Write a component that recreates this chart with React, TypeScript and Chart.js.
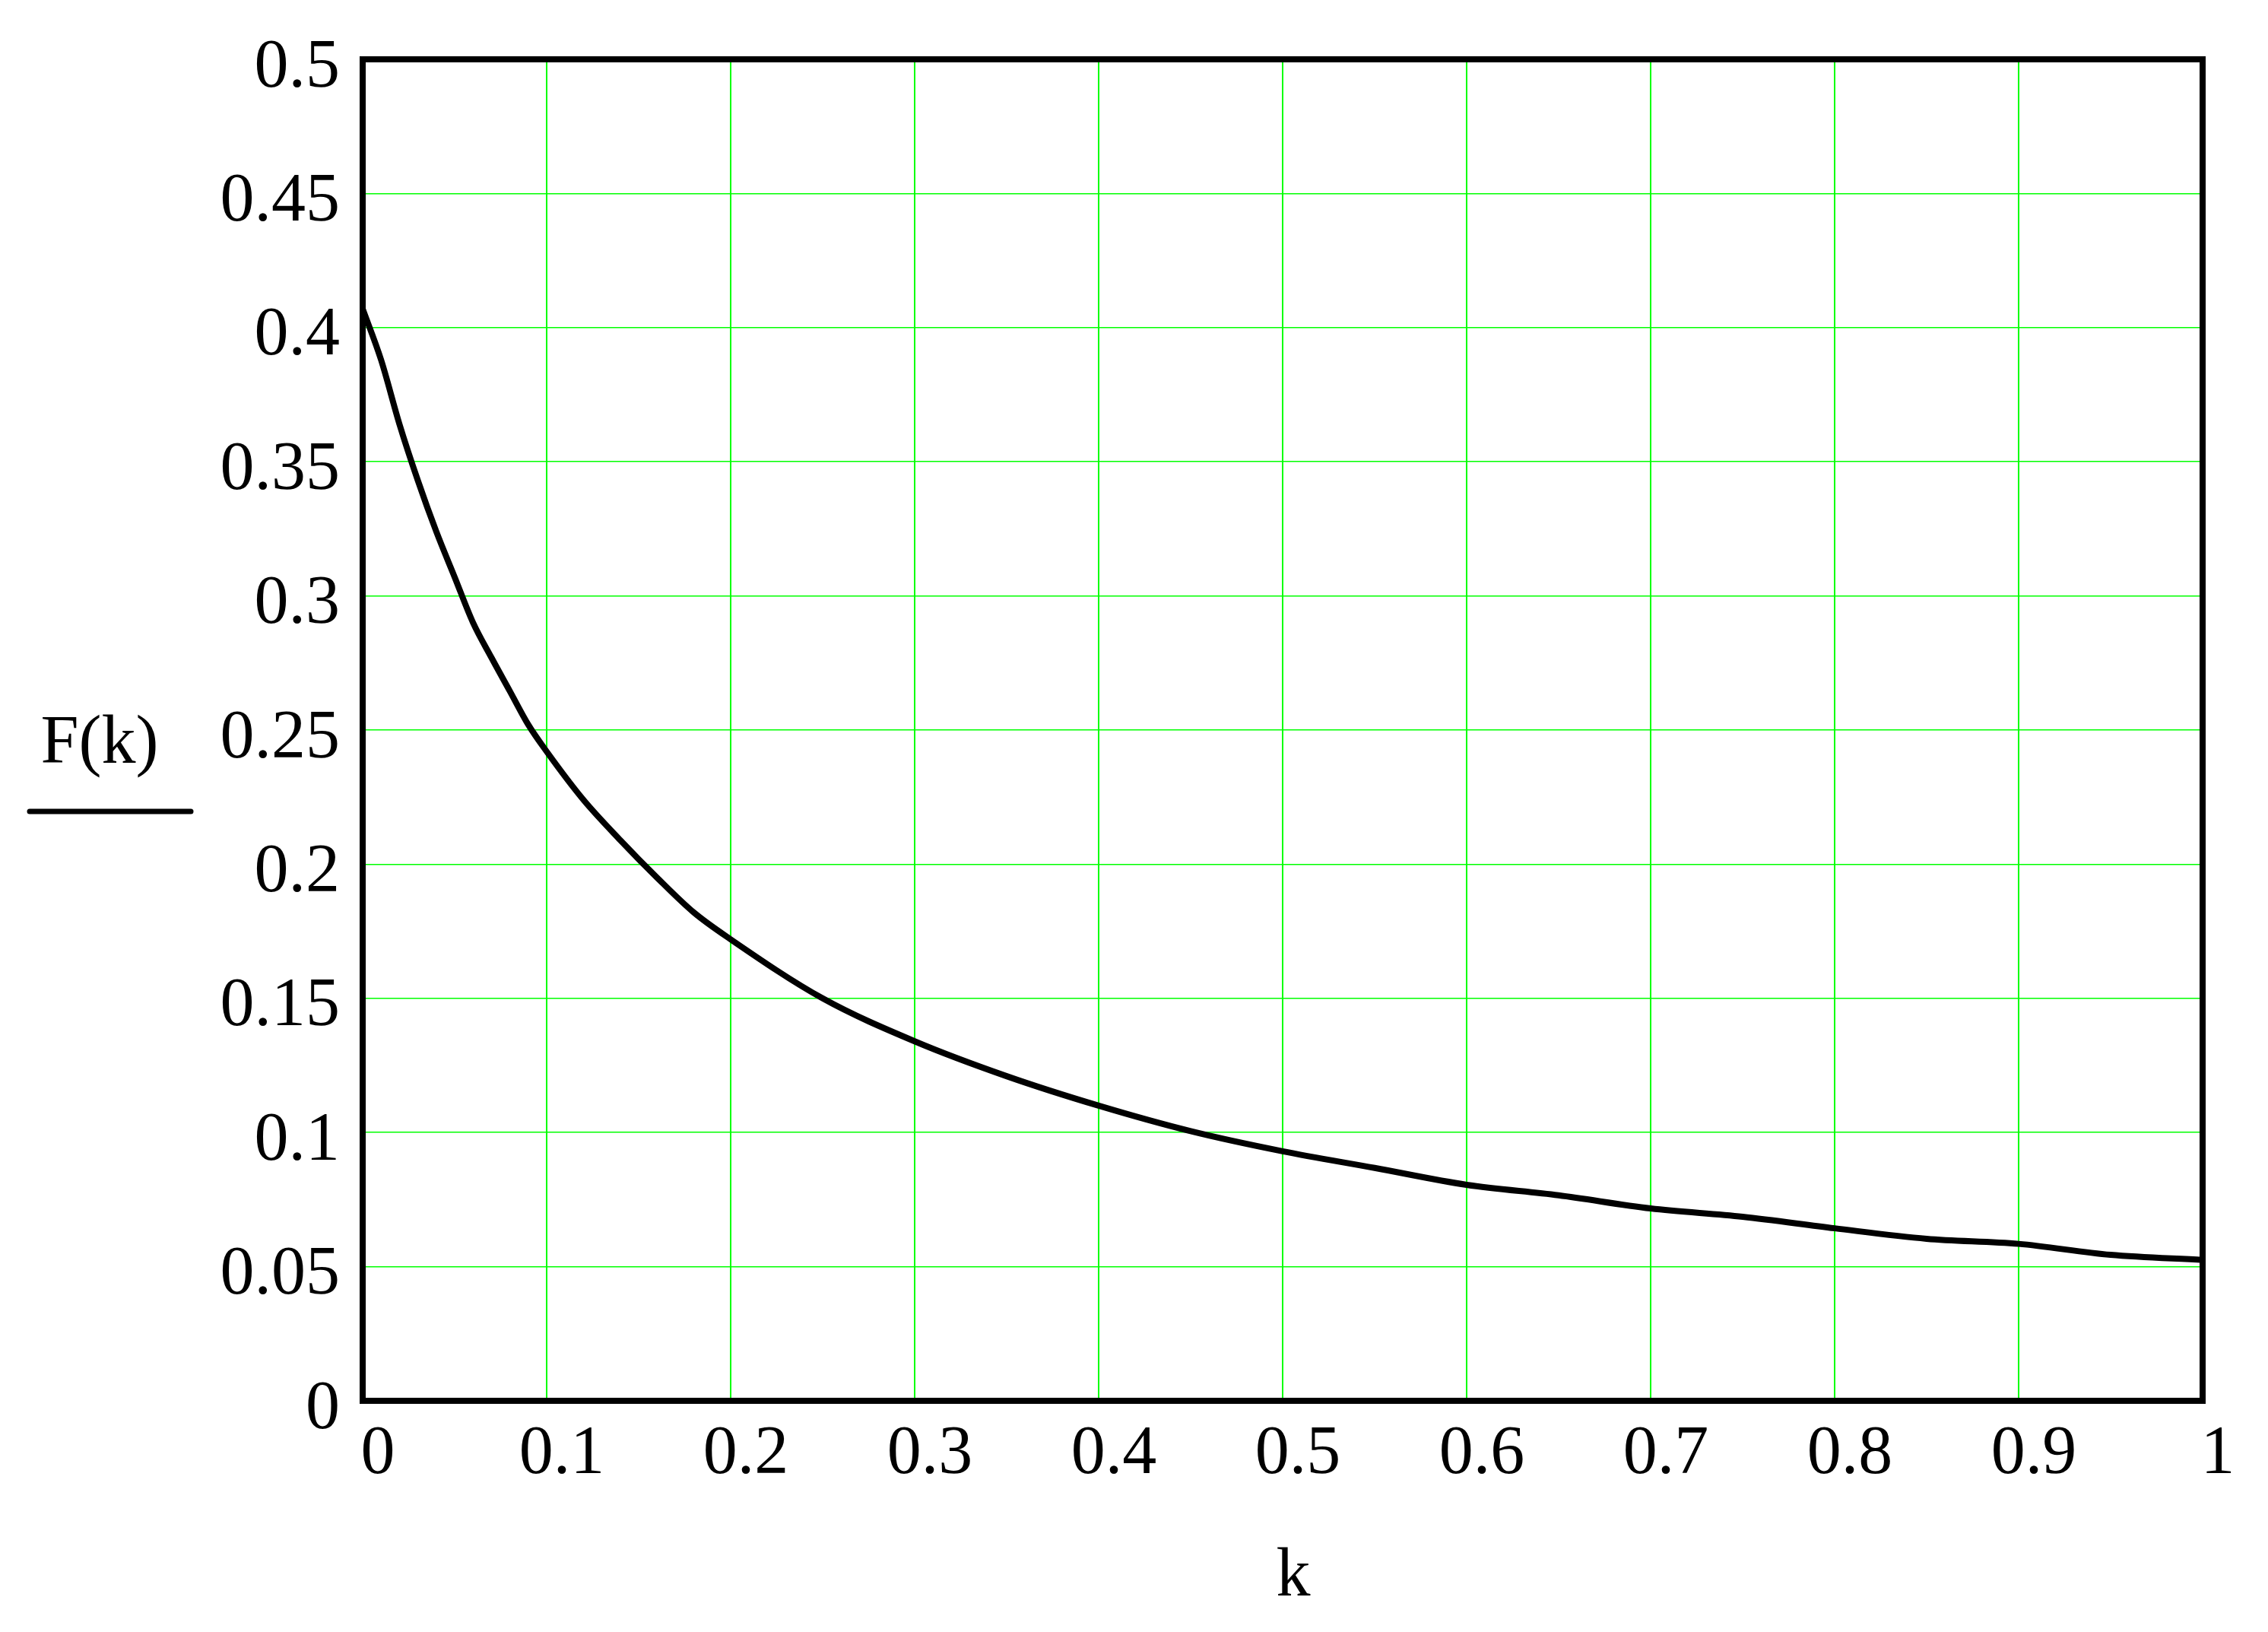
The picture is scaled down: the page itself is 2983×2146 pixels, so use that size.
import { useEffect, useRef } from "react";
import { Chart, registerables } from "chart.js";

Chart.register(...registerables);

// Values
const kValues = [
  0, 0.01, 0.02, 0.03, 0.04, 0.05, 0.06, 0.07, 0.08, 0.09, 0.1, 0.12, 0.14, 0.16, 0.18, 0.2,
  0.25, 0.3, 0.35, 0.4, 0.45, 0.5, 0.55, 0.6, 0.65, 0.7, 0.75, 0.8, 0.85, 0.9, 0.95, 1.0,
];
const fValues = [
  0.407, 0.388, 0.364, 0.343, 0.324, 0.307, 0.29, 0.277, 0.2645, 0.252, 0.242, 0.224, 0.209,
  0.195, 0.182, 0.172, 0.15, 0.134, 0.121, 0.11, 0.1005, 0.093, 0.0868, 0.0805, 0.0766, 0.0717,
  0.0686, 0.0643, 0.0604, 0.0585, 0.0544, 0.0525,
];
const xTickLabels = ["0", "0.1", "0.2", "0.3", "0.4", "0.5", "0.6", "0.7", "0.8", "0.9", "1"];
const yTickLabels = ["0", "0.05", "0.1", "0.15", "0.2", "0.25", "0.3", "0.35", "0.4", "0.45", "0.5"];
const xTitle = "k";
const yTitle = "F(k)";

const FONT = '"Liberation Serif", "Times New Roman", serif';
const W = 2983;
const H = 2146;

export default function App() {
  const ref = useRef<HTMLCanvasElement>(null);

  useEffect(() => {
    document.body.style.margin = "0";
    const canvas = ref.current;
    if (!canvas) return;

    const framePlugin = {
      id: "frameAndTitles",
      afterDatasetsDraw(chart: any) {
        const { ctx, chartArea: a } = chart;
        ctx.save();
        ctx.strokeStyle = "#000";
        ctx.lineWidth = 8;
        ctx.lineJoin = "miter";
        ctx.strokeRect(a.left, a.top, a.right - a.left, a.bottom - a.top);

        ctx.fillStyle = "#000";
        ctx.font = `90px ${FONT}`;
        ctx.textAlign = "center";
        ctx.textBaseline = "alphabetic";
        const midY = (a.top + a.bottom) / 2;
        ctx.fillText(xTitle, (a.left + a.right) / 2 + 14, a.bottom + 256);
        ctx.fillText(yTitle, a.left - 346, midY + 43);
        ctx.lineWidth = 7;
        ctx.lineCap = "round";
        ctx.beginPath();
        ctx.moveTo(a.left - 438, midY + 107);
        ctx.lineTo(a.left - 226, midY + 107);
        ctx.stroke();
        ctx.restore();
      },
    };

    const chart = new Chart(canvas, {
      type: "line",
      data: {
        datasets: [
          {
            data: kValues.map((k, i) => ({ x: k, y: fValues[i] })),
            borderColor: "#000",
            borderWidth: 8,
            pointRadius: 0,
            fill: false,
            cubicInterpolationMode: "monotone",
          },
        ],
      },
      options: {
        responsive: false,
        animation: false,
        devicePixelRatio: 1,
        layout: { padding: { left: 0, top: 78, right: 86, bottom: 0 } },
        plugins: { legend: { display: false }, tooltip: { enabled: false } },
        scales: {
          x: {
            type: "linear",
            min: 0,
            max: 1,
            ticks: {
              stepSize: 0.1,
              autoSkip: false,
              maxRotation: 0,
              labelOffset: 20,
              padding: 17,
              color: "#000",
              font: { family: FONT, size: 90 },
              callback: (_v: any, i: number) => xTickLabels[i],
            },
            grid: { color: "#00ff00", lineWidth: 2, drawTicks: false },
            border: { display: false },
            afterFit: (s: any) => {
              s.height = H - 1842;
            },
          },
          y: {
            type: "linear",
            min: 0,
            max: 0.5,
            ticks: {
              stepSize: 0.05,
              autoSkip: false,
              padding: 30,
              labelOffset: 12,
              color: "#000",
              font: { family: FONT, size: 90, lineHeight: 1 },
              callback: (_v: any, i: number) => yTickLabels[i],
            },
            grid: { color: "#00ff00", lineWidth: 1.5, drawTicks: false },
            border: { display: false },
            afterFit: (s: any) => {
              s.width = 477;
            },
          },
        },
      },
      plugins: [framePlugin],
    } as any);

    return () => chart.destroy();
  }, []);

  return (
    <div style={{ width: W, height: H, background: "#fff" }}>
      <canvas ref={ref} width={W} height={H} style={{ display: "block", width: W, height: H }} />
    </div>
  );
}
